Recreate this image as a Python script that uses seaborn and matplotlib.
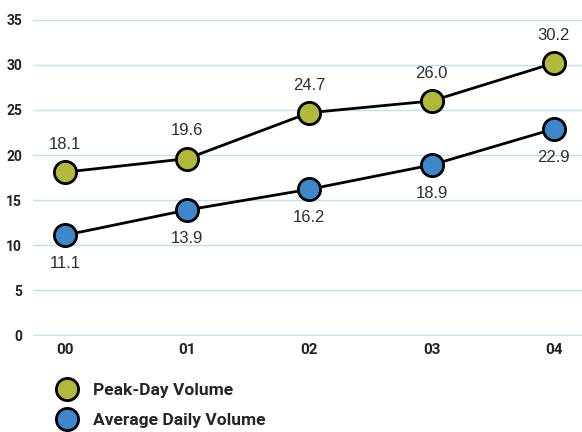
import matplotlib
matplotlib.use("Agg")
import matplotlib.pyplot as plt
import seaborn as sns
import pandas as pd
from matplotlib.lines import Line2D

years = ["00", "01", "02", "03", "04"]
peak_day = [18.1, 19.6, 24.7, 26.0, 30.2]
avg_daily = [11.1, 13.9, 16.2, 18.9, 22.9]
y_ticks = [0, 5, 10, 15, 20, 25, 30, 35]
series_names = ["Peak-Day Volume", "Average Daily Volume"]

sns.set_style("white")
plt.rcParams["font.family"] = ["Roboto", "DejaVu Sans"]

label_font = ["Roboto", "DejaVu Sans"]
value_font = ["Liberation Sans", "DejaVu Sans"]
green = "#b2b83c"
blue = "#3f87cb"

df = pd.DataFrame({
    "x": list(range(len(years))) * 2,
    "value": peak_day + avg_daily,
    "series": [series_names[0]] * len(years) + [series_names[1]] * len(years),
})

fig = plt.figure(figsize=(5.82, 4.32), dpi=100)
ax = fig.add_axes([0.057, 0.222, 0.943, 0.734])

for name, color in zip(series_names, [green, blue]):
    sub = df[df["series"] == name]
    sns.lineplot(data=sub, x="x", y="value", ax=ax, color="black", lw=2,
                 marker="o", markersize=16, markerfacecolor=color,
                 markeredgecolor="black", markeredgewidth=2, legend=False,
                 zorder=3)

for i, v in enumerate(peak_day):
    ax.annotate(f"{v:.1f}", (i, v), xytext=(0, 14.5), textcoords="offset points",
                ha="center", va="bottom", fontsize=12, color="#2e2e2e",
                family=value_font)
for i, v in enumerate(avg_daily):
    ax.annotate(f"{v:.1f}", (i, v), xytext=(0, -15), textcoords="offset points",
                ha="center", va="top", fontsize=12, color="#2e2e2e",
                family=value_font)

ax.set_xlim(-0.26, 4.23)
ax.set_ylim(-0.1, 35.1)
ax.set_yticks(y_ticks)
ax.set_yticklabels([str(t) for t in y_ticks], family=label_font,
                   fontweight="bold", fontsize=10, color="#222222")
ax.set_xticks(range(len(years)))
ax.set_xticklabels(years, family=label_font, fontweight="bold", fontsize=11,
                   color="#222222")
ax.tick_params(axis="x", length=0, pad=5)
ax.tick_params(axis="y", length=0, pad=8)
ax.grid(axis="y", color="#c6dff0", lw=1)
ax.grid(axis="x", visible=False)
for s in ax.spines.values():
    s.set_visible(False)
ax.set_xlabel("")
ax.set_ylabel("")

handles = [Line2D([], [], ls="none", marker="o", markersize=16,
                  markerfacecolor=c, markeredgecolor="black", markeredgewidth=2)
           for c in (green, blue)]
fig.legend(handles, series_names, loc="upper left", bbox_to_anchor=(0.085, 0.13),
           frameon=False, prop={"family": label_font, "weight": "bold", "size": 12.5},
           handletextpad=0.9, labelspacing=0.85, handlelength=1.2,
           borderaxespad=0)

fig.savefig("out.png", dpi=100)
